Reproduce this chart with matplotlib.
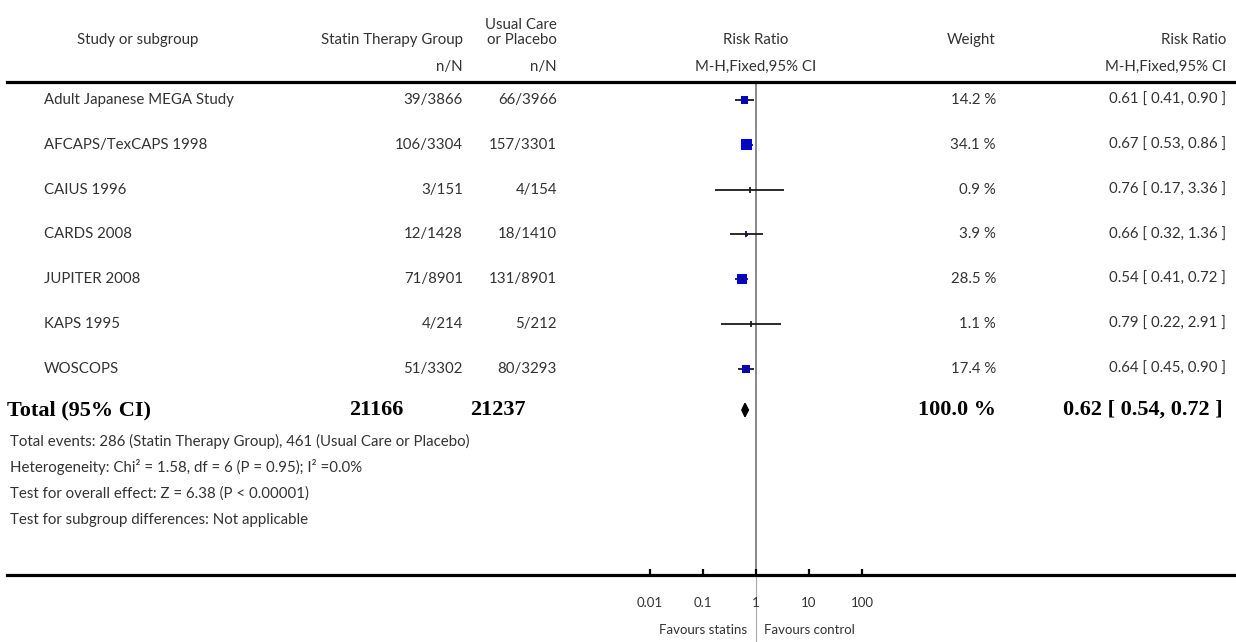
import matplotlib
matplotlib.use('Agg')
import matplotlib.pyplot as plt
from matplotlib.transforms import blended_transform_factory

plt.rcParams['font.family'] = ['Lato', 'DejaVu Sans']

# data
studies = ['Adult Japanese MEGA Study', 'AFCAPS/TexCAPS 1998', 'CAIUS 1996',
           'CARDS 2008', 'JUPITER 2008', 'KAPS 1995', 'WOSCOPS']
statin_events = [39, 106, 3, 12, 71, 4, 51]
statin_n = [3866, 3304, 151, 1428, 8901, 214, 3302]
control_events = [66, 157, 4, 18, 131, 5, 80]
control_n = [3966, 3301, 154, 1410, 8901, 212, 3293]
weights = [14.2, 34.1, 0.9, 3.9, 28.5, 1.1, 17.4]
rr = [0.61, 0.67, 0.76, 0.66, 0.54, 0.79, 0.64]
ci_lo = [0.41, 0.53, 0.17, 0.32, 0.41, 0.22, 0.45]
ci_hi = [0.90, 0.86, 3.36, 1.36, 0.72, 2.91, 0.90]

total_rr, total_lo, total_hi = 0.62, 0.54, 0.72
total_statin, total_control = 21166, 21237
footer = ['Total events: 286 (Statin Therapy Group), 461 (Usual Care or Placebo)',
          'Heterogeneity: Chi\u00b2 = 1.58, df = 6 (P = 0.95); I\u00b2 =0.0%',
          'Test for overall effect: Z = 6.38 (P < 0.00001)',
          'Test for subgroup differences: Not applicable']
tick_vals = [0.01, 0.1, 1, 10, 100]
tick_labels = ['0.01', '0.1', '1', '10', '100']

W, H = 1236, 642
fig = plt.figure(figsize=(W / 100, H / 100), dpi=100)

def fx(px):
    return px / W

def fy(py):
    return 1 - py / H

# forest axes: spans the full width, 53 px per decade, 1 at x=756
ax_l, ax_r, ax_t, ax_b = 7, 1236, 82, 575
ax = fig.add_axes([fx(ax_l), fy(ax_b), fx(ax_r - ax_l), (ax_b - ax_t) / H])
dec = 53.0
ax.set_xscale('log')
ax.set_xlim(10 ** ((ax_l - 756) / dec), 10 ** ((ax_r - 756) / dec))
row_h = 44.8
ax.set_ylim((ax_b - 100) / row_h, (ax_t - 100) / row_h)

for s in ['left', 'right']:
    ax.spines[s].set_visible(False)
for s in ['top', 'bottom']:
    ax.spines[s].set_linewidth(2.3)
ax.set_yticks([])
ax.set_xticks(tick_vals)
ax.set_xticklabels(tick_labels)
ax.minorticks_off()
ax.tick_params(axis='x', direction='in', length=4, width=1.6, pad=16,
               labelsize=9.5, labelcolor='#333333')

# line of no effect: darker inside the plot, lighter below it
ax.axvline(1, color='#808080', lw=1.3, zorder=1)
ax.axvline(1, ymin=-0.14, ymax=0, color='#b0b0b0', lw=0.9, clip_on=False, zorder=1)

rows = list(range(len(studies)))
total_row = 6.92

ax.hlines(rows, ci_lo, ci_hi, color='#1a1a1a', lw=1.3, zorder=2)
ax.scatter(rr, rows, marker='s', s=[1.84 * w for w in weights], color='#0000ee',
           linewidths=0, zorder=3)
ax.scatter(rr, rows, marker='|', s=16, color='#1a1a1a', linewidths=1.3, zorder=4)
ax.fill([total_lo, total_rr, total_hi, total_rr],
        [total_row, total_row - 0.15, total_row, total_row + 0.15],
        color='black', zorder=3)

# table text
tr = blended_transform_factory(fig.transFigure, ax.transData)
txt = dict(fontsize=10.8, color='#333333', va='center', transform=tr)
for i, name in enumerate(studies):
    fig.text(fx(44), i, name, ha='left', **txt)
    fig.text(fx(463), i, f'{statin_events[i]}/{statin_n[i]}', ha='right', **txt)
    fig.text(fx(557), i, f'{control_events[i]}/{control_n[i]}', ha='right', **txt)
    fig.text(fx(996), i, f'{weights[i]:.1f} %', ha='right', **txt)
    fig.text(fx(1226), i, f'{rr[i]:.2f} [ {ci_lo[i]:.2f}, {ci_hi[i]:.2f} ]', ha='right', **txt)

bold = dict(fontsize=16, fontweight='bold', family='Liberation Serif', color='black',
            va='center', transform=tr)
fig.text(fx(7), total_row, 'Total (95% CI)', ha='left', **bold)
fig.text(fx(404), total_row, str(total_statin), ha='right', **bold)
fig.text(fx(526), total_row, str(total_control), ha='right', **bold)
fig.text(fx(996), total_row, '100.0 %', ha='right', **bold)
fig.text(fx(1223), total_row, f'{total_rr:.2f} [ {total_lo:.2f}, {total_hi:.2f} ]',
         ha='right', **bold)

for k, line in enumerate(footer):
    fig.text(fx(10), fy(441 + 26.4 * k), line, ha='left', va='center',
             fontsize=10.8, color='#333333')

# header
hd = dict(fontsize=10.8, color='#333333', va='center')
fig.text(fx(138), fy(40), 'Study or subgroup', ha='center', **hd)
fig.text(fx(463), fy(40), 'Statin Therapy Group', ha='right', **hd)
fig.text(fx(557), fy(25), 'Usual Care', ha='right', **hd)
fig.text(fx(557), fy(40), 'or Placebo', ha='right', **hd)
fig.text(fx(463), fy(67), 'n/N', ha='right', **hd)
fig.text(fx(557), fy(67), 'n/N', ha='right', **hd)
fig.text(fx(756), fy(40), 'Risk Ratio', ha='center', **hd)
fig.text(fx(756), fy(67), 'M-H,Fixed,95% CI', ha='center', **hd)
fig.text(fx(996), fy(40), 'Weight', ha='right', **hd)
fig.text(fx(1226), fy(40), 'Risk Ratio', ha='right', **hd)
fig.text(fx(1226), fy(67), 'M-H,Fixed,95% CI', ha='right', **hd)

# favours labels
trx = blended_transform_factory(ax.transData, fig.transFigure)
fig.text(0.1, fy(630), 'Favours statins', ha='center', va='center', transform=trx,
         fontsize=9.5, color='#333333')
fig.text(10, fy(630), 'Favours control', ha='center', va='center', transform=trx,
         fontsize=9.5, color='#333333')

fig.savefig('out.png', dpi=100)
